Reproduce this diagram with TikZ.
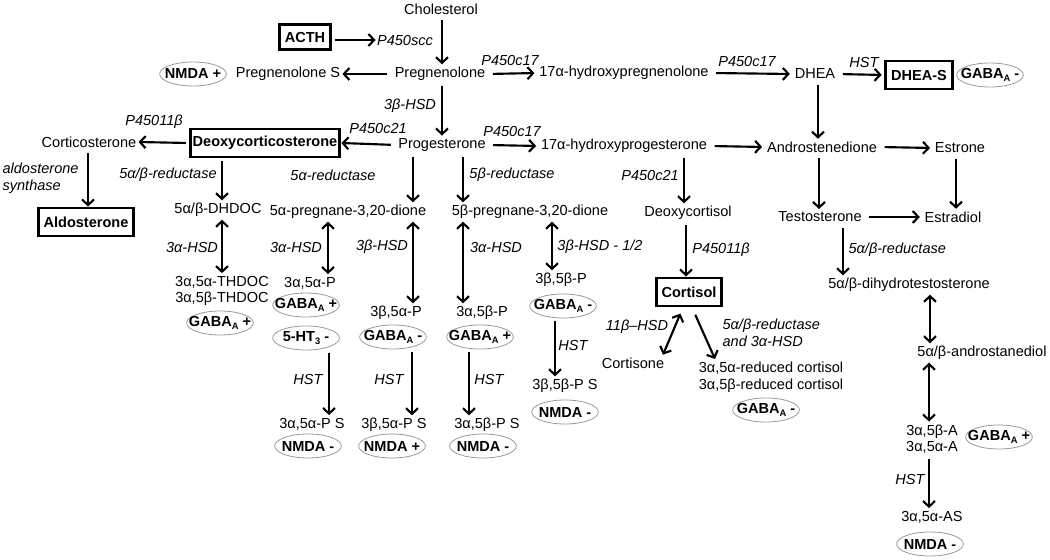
\documentclass[tikz,border=0pt]{standalone}
\usepackage{fontspec}
\setmainfont{Liberation Sans}
\usetikzlibrary{arrows.meta,shapes.geometric}
\newcommand{\gsub}[1]{\raisebox{-0.5ex}{\fontsize{7}{8}\selectfont #1}}
\begin{document}
\begin{tikzpicture}[x=0.75pt,y=-0.75pt,
  txt/.style={font=\fontsize{10.9}{12.5}\selectfont, inner xsep=1.5pt, inner ysep=2pt, align=center},
  lab/.style={font=\fontsize{10.9}{12.5}\selectfont\itshape, inner sep=1pt, align=left},
  bbox/.style={draw, line width=2.2pt, font=\fontsize{10.9}{12.5}\selectfont\bfseries, inner xsep=4pt, inner ysep=0pt, minimum height=21pt},
  rec/.style={ellipse, draw=gray!80, line width=0.6pt, font=\fontsize{10.9}{12.5}\selectfont\bfseries, minimum width=50pt, minimum height=18pt, inner sep=-6pt},
  arr/.style={line width=1.6pt, shorten <=2pt, -{Straight Barb[length=4.2pt,width=9pt]}},
  harr/.style={arr, shorten <=4pt, shorten >=2pt},
  darr/.style={line width=1.6pt, {Straight Barb[length=4.2pt,width=9pt]}-{Straight Barb[length=4.2pt,width=9pt]}},
]
\useasboundingbox (0,0) rectangle (1050,560);

% nodes
\node[txt] (chol) at (441,9) {Cholesterol};
\node[bbox, minimum height=19pt] (acth) at (305,37) {ACTH};
\node[lab] (scc) at (405,40) {P450scc};
\node[txt] (preg) at (440,74) {Pregnenolone};
\node[txt] (pregS) at (288,74) {Pregnenolone S};
\node[rec] (nmda1) at (193,74) {NMDA +};
\node[txt] (ohpreg) at (624,73) {17α-hydroxypregnenolone};
\node[txt] (dhea) at (815,74) {DHEA};
\node[bbox] (dheas) at (919,75) {DHEA-S};
\node[rec] (gaba1) at (990,75) {GABA\gsub{A} -};
\node[lab] (lc17a) at (510,60) {P450c17};
\node[lab] (lc17b) at (747,61) {P450c17};
\node[lab] (lhst1) at (864,62) {HST};
\node[lab] (l3b1) at (410,106) {3β-HSD};

\node[txt] (prog) at (442,145) {Progesterone};
\node[bbox, inner xsep=2pt] (doc) at (265,143) {Deoxycorticosterone};
\node[lab] (lc21) at (378,128) {P450c21};
\node[txt] (ohprog) at (624,146) {17α-hydroxyprogesterone};
\node[lab] (lc17c) at (512,131) {P450c17};
\node[txt] (andro) at (822,147) {Androstenedione};
\node[txt] (estrone) at (960,148) {Estrone};
\node[txt] (cortico) at (89,142) {Corticosterone};
\node[lab] (l11b) at (154,122) {P45011β};
\node[lab, anchor=west] (laldo) at (1,178) {aldosterone\\synthase};
\node[bbox] (aldo) at (86,222) {Aldosterone};

\node[lab] (lred1) at (168,175) {5α/β-reductase};
\node[txt] (dhdoc) at (218,210) {5α/β-DHDOC};
\node[lab] (l3a1) at (192,247) {3α-HSD};
\node[txt] (thdoc) at (222,291) {3α,5α-THDOC\\3α,5β-THDOC};
\node[rec] (gaba2) at (220,323) {GABA\gsub{A} +};

\node[txt] (p5a) at (348,212) {5α-pregnane-3,20-dione};
\node[lab] (l5ar) at (333,175) {5α-reductase};
\node[lab] (l3a2) at (296,247) {3α-HSD};
\node[txt] (aaP) at (310,283) {3α,5α-P};
\node[rec] (gaba3) at (306,305) {GABA\gsub{A} +};
\node[rec] (ht3) at (306,338) {5-HT\gsub{3} -};
\node[lab] (lhst2) at (308,379) {HST};
\node[txt] (aaPS) at (312,424) {3α,5α-P S};
\node[rec] (nmda2) at (308,446) {NMDA -};

\node[lab] (l3b2) at (382,247) {3β-HSD};
\node[txt] (baP) at (396,313) {3β,5α-P};
\node[rec] (gaba4) at (393,337) {GABA\gsub{A} -};
\node[lab] (lhst3) at (389,379) {HST};
\node[txt] (baPS) at (394,425) {3β,5α-P S};
\node[rec] (nmda3) at (392,446) {NMDA +};

\node[txt] (p5b) at (530,212) {5β-pregnane-3,20-dione};
\node[lab] (l5br) at (512,175) {5β-reductase};
\node[lab] (l3a3) at (496,247) {3α-HSD};
\node[txt] (abP) at (482,313) {3α,5β-P};
\node[rec] (gaba5) at (480,337) {GABA\gsub{A} +};
\node[lab] (lhst4) at (489,379) {HST};
\node[txt] (abPS) at (487,425) {3α,5β-P S};
\node[rec] (nmda4) at (483,446) {NMDA -};

\node[lab] (l3b3) at (600,247) {3β-HSD - 1/2};
\node[txt] (bbP) at (561,280) {3β,5β-P};
\node[rec] (gaba6) at (563,306) {GABA\gsub{A} -};
\node[lab] (lhst5) at (573,345) {HST};
\node[txt] (bbPS) at (565,386) {3β,5β-P S};
\node[rec] (nmda5) at (565,412) {NMDA -};

\node[lab] (lc21b) at (650,175) {P450c21};
\node[txt] (dcortisol) at (688,213) {Deoxycortisol};
\node[lab] (l11b2) at (721,250) {P45011β};
\node[bbox] (cortisol) at (689,292) {Cortisol};
\node[lab] (l11bhsd) at (637,327) {11β–HSD};
\node[txt] (cortisone) at (633,363) {Cortisone};
\node[lab, anchor=west] (lred2) at (721,333) {5α/β-reductase\\and 3α-HSD};
\node[txt] (redcort) at (771,377) {3α,5α-reduced cortisol\\3α,5β-reduced cortisol};
\node[rec] (gaba7) at (766,410) {GABA\gsub{A} -};

\node[txt] (testo) at (820,217) {Testosterone};
\node[txt] (estradiol) at (953,217) {Estradiol};
\node[lab, anchor=west] (lred3) at (847,250) {5α/β-reductase};
\node[txt] (dht) at (909,285) {5α/β-dihydrotestosterone};
\node[txt] (adiol) at (982,353) {5α/β-androstanediol};
\node[txt] (Ah) at (932,439) {3α,5β-A\\3α,5α-A};
\node[rec] (gaba8) at (999,437) {GABA\gsub{A} +};
\node[lab] (lhst6) at (910,479) {HST};
\node[txt] (AS) at (932,517) {3α,5α-AS};
\node[rec] (nmda6) at (930,544) {NMDA -};

% connectors
\draw[arr] (chol.south -| 442,0) -- (preg.north -| 442,0);
\draw[arr] (acth.east |- scc) -- (scc.west);
\draw[harr, shorten >=0pt] (preg.west) -- (pregS.east);
\draw[harr] (preg.east) -- (ohpreg.west);
\draw[harr] (ohpreg.east) -- (dhea.west);
\draw[harr] (dhea.east) -- (dheas.west);
\draw[arr] (preg.south -| 442,0) -- (prog.north -| 442,0);
\draw[arr] (dhea.south -| 818,0) -- (andro.north -| 818,0);
\draw[harr, shorten >=0pt] (prog.west) -- (doc.east);
\draw[harr] (prog.east) -- (ohprog.west);
\draw[harr] (ohprog.east) -- (andro.west);
\draw[harr] (andro.east) -- (estrone.west);
\draw[arr] (doc.west) -- (cortico.east);
\draw[arr] (cortico.south -| 88,0) -- (aldo.north -| 88,0);
\draw[arr] (doc.south -| 222,0) -- (dhdoc.north -| 222,0);
\draw[darr] (dhdoc.south -| 222,0) -- (thdoc.north -| 222,0);
\draw[arr] (prog.south -| 413,0) -- (p5a.north -| 413,0);
\draw[arr] (prog.south -| 463,0) -- (p5b.north -| 463,0);
\draw[darr] (p5a.south -| 328,0) -- (aaP.north -| 328,0);
\draw[darr] (p5a.south -| 413,0) -- (baP.north -| 413,0);
\draw[darr] (p5b.south -| 463,0) -- (abP.north -| 463,0);
\draw[darr] (p5b.south -| 552,0) -- (bbP.north -| 552,0);
\draw[arr] (ht3.south -| 329,0) -- (aaPS.north -| 329,0);
\draw[arr] (gaba4.south -| 412,0) -- (baPS.north -| 412,0);
\draw[arr] (gaba5.south -| 469,0) -- (abPS.north -| 469,0);
\draw[arr] (gaba6.south -| 555,0) -- (bbPS.north -| 555,0);
\draw[arr] (ohprog.south -| 684,0) -- (dcortisol.north -| 684,0);
\draw[arr] (dcortisol.south -| 686,0) -- (cortisol.north -| 686,0);
\draw[darr, shorten <=5pt] (cortisol.south -| 683,0) -- (cortisone.north -| 663,0);
\draw[arr, shorten <=6pt] (cortisol.south -| 692,0) -- (redcort.north -| 715,0);
\draw[arr] (andro.south -| 819,0) -- (testo.north -| 819,0);
\draw[arr] (estrone.south -| 956,0) -- (estradiol.north -| 956,0);
\draw[harr] (testo.east) -- (estradiol.west);
\draw[arr] (testo.south -| 843,0) -- (dht.north -| 843,0);
\draw[darr] (dht.south -| 930,0) -- (adiol.north -| 930,0);
\draw[darr] (adiol.south -| 929,0) -- (Ah.north -| 929,0);
\draw[arr] (Ah.south -| 929,0) -- (AS.north -| 929,0);
\end{tikzpicture}
\end{document}
